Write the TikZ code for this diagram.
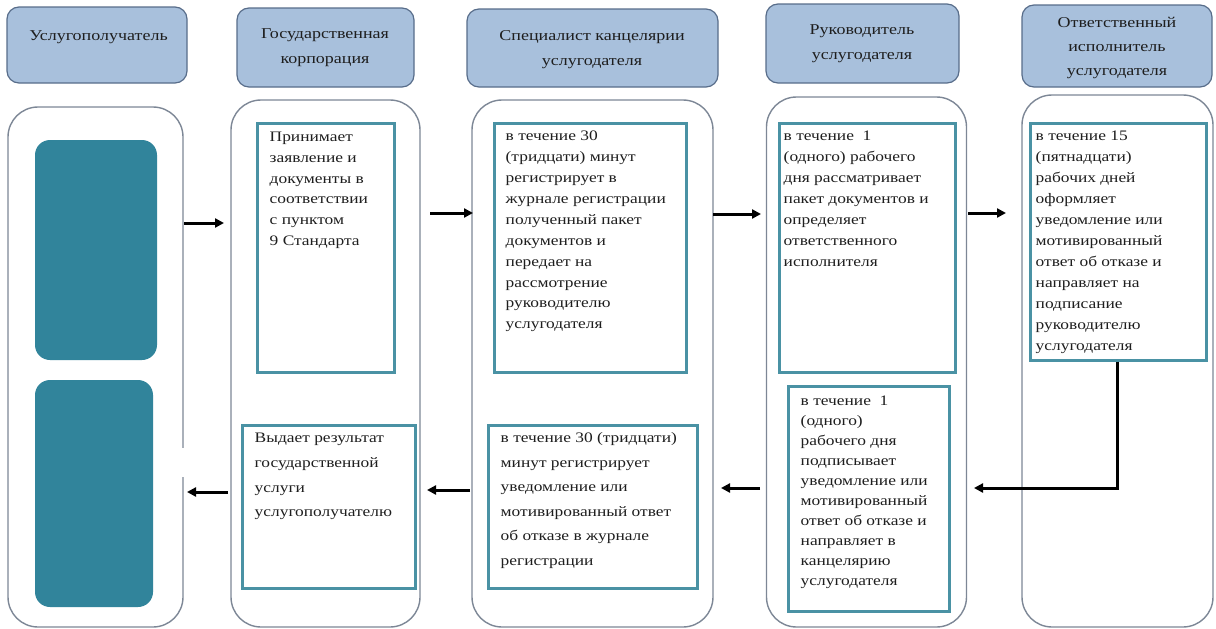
\documentclass[tikz,border=0pt]{standalone}
\usepackage{fontspec}
\newfontfamily\tnr{Liberation Serif}[FakeStretch=1.2]
\usetikzlibrary{arrows.meta}
\definecolor{headfill}{HTML}{A8C0DC}
\definecolor{headdraw}{HTML}{586D8A}
\definecolor{lanedraw}{HTML}{7D8796}
\definecolor{tealfill}{HTML}{31849B}
\definecolor{iboxdraw}{HTML}{4A92A4}
\definecolor{txt}{HTML}{1E1E1E}
\tikzset{
  lane/.style={draw=lanedraw, line width=1.4pt, rounded corners=30pt, fill=white, inner sep=0pt},
  head/.style={draw=headdraw, line width=1.2pt, rounded corners=12pt, fill=headfill, inner sep=0pt},
  tealbox/.style={fill=tealfill, rounded corners=15pt, inner sep=0pt},
  ibox/.style={draw=iboxdraw, line width=3pt, fill=white, inner sep=0pt},
  htext/.style={align=center, inner sep=0pt, text=txt, font=\tnr\fontsize{15}{25}\selectfont},
  btext/.style={align=left, inner sep=0pt, anchor=north west, text=txt},
  arr/.style={line width=3pt, -{Triangle[length=9pt,width=9pt]}}
}
\newcommand\fl{\rule{0pt}{12pt}}
\begin{document}
\begin{tikzpicture}[x=1pt,y=-1pt]
\useasboundingbox (0,0) rectangle (1216,629);
% lanes
\node[lane, minimum width=175, minimum height=520] (L1) at (95.5,367) {};
\node[lane, minimum width=189, minimum height=527] (L2) at (325.5,363.5) {};
\node[lane, minimum width=241, minimum height=527] (L3) at (592.5,363.5) {};
\node[lane, minimum width=200, minimum height=530] (L4) at (866.5,362) {};
\node[lane, minimum width=191, minimum height=532] (L5) at (1117.5,361) {};
\fill[white] (180,448) rectangle (186,477);
% headers
\node[head, minimum width=180, minimum height=76] (H1) at (97,45) {};
\node[head, minimum width=177, minimum height=79] (H2) at (325.5,47.5) {};
\node[head, minimum width=251, minimum height=78] (H3) at (592.5,48) {};
\node[head, minimum width=193, minimum height=79] (H4) at (862.5,43.5) {};
\node[head, minimum width=190, minimum height=82] (H5) at (1117,46) {};
\node[htext] (H1t) at (98.5,37) {Услугополучатель};
\node[htext] (H2t) at (325,48) {Государственная\\корпорация};
\node[htext] (H3t) at (592,49.5) {Специалист канцелярии\\услугодателя};
\node[htext] (H4t) at (862,44) {Руководитель\\услугодателя};
\node[htext, font=\tnr\fontsize{15}{24}\selectfont] (H5t) at (1117,48) {Ответственный\\исполнитель\\услугодателя};
% teal boxes
\node[tealbox, minimum width=122, minimum height=220] (T1) at (96,250) {};
\node[tealbox, minimum width=118, minimum height=227] (T2) at (94,493.5) {};
% inner boxes
\node[ibox, minimum width=137, minimum height=249] (B21) at (325.5,247.5) {};
\node[ibox, minimum width=192, minimum height=249] (B31) at (590,247.5) {};
\node[ibox, minimum width=176, minimum height=249] (B41) at (867,247.5) {};
\node[ibox, minimum width=176, minimum height=237] (B51) at (1118,241.5) {};
\node[ibox, minimum width=173, minimum height=163] (B22) at (328.5,506.5) {};
\node[ibox, minimum width=209, minimum height=163] (B32) at (592.5,506.5) {};
\node[ibox, minimum width=161, minimum height=225] (B42) at (868.5,498.5) {};
% texts
\node[btext, font=\tnr\fontsize{14.5}{20.7}\selectfont] (X21) at ([shift={(14,8)}]B21.north west)
 {\fl Принимает\\заявление и\\документы в\\соответствии\\с пунктом\\9 Стандарта};
\node[btext, font=\tnr\fontsize{14.5}{20.9}\selectfont] (X31) at ([shift={(13,7)}]B31.north west)
 {\fl в течение 30\\(тридцати) минут\\регистрирует в\\журнале регистрации\\полученный пакет\\документов и\\передает на\\рассмотрение\\руководителю\\услугодателя};
\node[btext, font=\tnr\fontsize{14.5}{21}\selectfont] (X41) at ([shift={(6,7)}]B41.north west)
 {\fl в течение\ \ 1\\(одного) рабочего\\дня рассматривает\\пакет документов и\\определяет\\ответственного\\исполнителя};
\node[btext, font=\tnr\fontsize{14.5}{21}\selectfont] (X51) at ([shift={(7,7)}]B51.north west)
 {\fl в течение 15\\(пятнадцати)\\рабочих дней\\оформляет\\уведомление или\\мотивированный\\ответ об отказе и\\направляет на\\подписание\\руководителю\\услугодателя};
\node[btext, font=\tnr\fontsize{14.5}{24.7}\selectfont] (X22) at ([shift={(14,7)}]B22.north west)
 {\fl Выдает результат\\государственной\\услуги\\услугополучателю};
\node[btext, font=\tnr\fontsize{14.5}{24.5}\selectfont] (X32) at ([shift={(14,7)}]B32.north west)
 {\fl в течение 30 (тридцати)\\минут регистрирует\\уведомление или\\мотивированный ответ\\об отказе в журнале\\регистрации};
\node[btext, font=\tnr\fontsize{14.5}{20}\selectfont] (X42) at ([shift={(14,9)}]B42.north west)
 {\fl в течение\ \ 1\\(одного)\\рабочего дня\\подписывает\\уведомление или\\мотивированный\\ответ об отказе и\\направляет в\\канцелярию\\услугодателя};
% arrow coordinates
\coordinate (a1s) at (184,223); \coordinate (a1e) at (224,223);
\coordinate (a2s) at (430,213); \coordinate (a2e) at (473,213);
\coordinate (a3s) at (713,214); \coordinate (a3e) at (761,214);
\coordinate (a4s) at (968,213); \coordinate (a4e) at (1006,213);
\coordinate (b1s) at (228,492); \coordinate (b1e) at (187,492);
\coordinate (b2s) at (470,490); \coordinate (b2e) at (427,490);
\coordinate (b3s) at (760,488); \coordinate (b3e) at (721,488);
\coordinate (k4) at (1117,488); \coordinate (b4e) at (974,488);
\draw[arr] (a1s) -- (a1e);
\draw[arr] (a2s) -- (a2e);
\draw[arr] (a3s) -- (a3e);
\draw[arr] (a4s) -- (a4e);
\draw[arr] (b1s) -- (b1e);
\draw[arr] (b2s) -- (b2e);
\draw[arr] (b3s) -- (b3e);
\draw[arr] (B51.south -| k4) -- (k4) -- (b4e);
\end{tikzpicture}
\end{document}
